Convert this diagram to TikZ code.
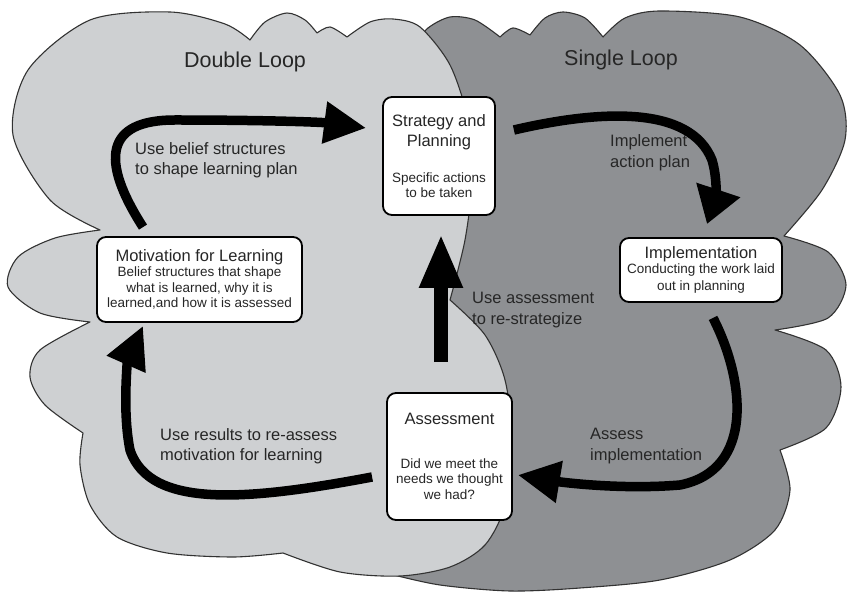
\documentclass[tikz,border=0pt]{standalone}
\usepackage{fontspec}
\setmainfont{Liberation Sans}
\usetikzlibrary{arrows.meta,calc}
\definecolor{lightcloud}{RGB}{206,208,210}
\definecolor{darkcloud}{RGB}{142,144,147}
\definecolor{cloudline}{RGB}{50,50,50}
\definecolor{txt}{RGB}{38,38,38}
\newcommand\stagetitle{\fontsize{16.5}{21}\selectfont}
\newcommand\stagesub{\fontsize{13.5}{15.5}\selectfont}
\begin{document}
\begin{tikzpicture}[x=1pt,y=-1pt,
  cloudshape/.style={draw=cloudline, line width=1.1pt, line join=round},
  stagebox/.style={draw=black, fill=white, rounded corners=9pt, line width=1.8pt, inner sep=0pt, align=center, text=txt, font=\stagesub},
  looplabel/.style={inner sep=0pt, align=left, text=txt, font=\fontsize{16.5}{20.5}\selectfont, anchor=west},
  looptitle/.style={inner sep=0pt, text=txt, font=\fontsize{21.5}{24}\selectfont, anchor=base},
  bigarrow/.style={line width=9.5pt, draw=black, -{Triangle[length=42pt,width=40pt]}},
  ]
\useasboundingbox (0,0) rectangle (847,593);
% dark cloud (single loop), behind
\path[cloudshape, fill=darkcloud]
  plot[smooth] coordinates {(415,45) (428,28) (450,17) (475,20) (500,37)}
  -- plot[smooth] coordinates {(500,37) (513,28) (530,35)}
  -- plot[smooth] coordinates {(530,35) (545,18) (563,12) (585,18) (603,37)}
  -- plot[smooth] coordinates {(603,37) (625,18) (660,11) (740,17) (800,45) (840,95) (845,140) (822,190) (784,236)}
  -- plot[smooth] coordinates {(784,236) (828,252) (846,285) (828,318) (775,330)}
  -- plot[smooth] coordinates {(775,330) (826,350) (841,387) (826,428) (780,450)}
  -- plot[smooth] coordinates {(780,450) (790,490) (775,530) (730,560) (660,580) (580,588) (510,591) (440,585) (390,574)}
  -- (300,300) -- cycle;
% light cloud (double loop), in front
\path[cloudshape, fill=lightcloud]
  plot[smooth] coordinates {(100,230) (50,200) (13,135) (28,70) (90,20) (170,12) (225,24) (250,40)}
  -- plot[smooth] coordinates {(250,40) (265,22) (287,13) (305,20) (317,33)}
  -- plot[smooth] coordinates {(317,33) (330,27) (347,37)}
  -- plot[smooth] coordinates {(347,37) (370,22) (393,19) (420,27) (450,65) (468,120) (472,180) (465,240) (450,300)}
  -- plot[smooth] coordinates {(450,300) (485,335) (505,380) (512,440) (505,505) (485,545) (450,567) (400,576) (340,572) (283,553)}
  -- plot[smooth] coordinates {(283,553) (233,557) (167,553) (117,537) (90,505) (80,465) (83,433)}
  -- plot[smooth] coordinates {(83,433) (45,405) (30,377) (40,350) (90,322)}
  -- plot[smooth] coordinates {(90,322) (40,313) (8,287) (18,257) (55,238) (100,230)}
  -- cycle;
% titles
\node[looptitle] (dbl) at (245,67.5) {Double Loop};
\node[looptitle] (sgl) at (621,66) {Single Loop};
% stage boxes
\node[stagebox, minimum width=112pt, minimum height=118pt] (strat) at (439,156)
  {\stagetitle Strategy and\\[5pt]\stagetitle Planning\\[20pt]Specific actions\\to be taken};
\node[stagebox, minimum width=205pt, minimum height=85pt] (mot) at (199.5,279.5)
  {\stagetitle Motivation for Learning\\Belief structures that shape\\what is learned, why it is\\learned,and how it is assessed};
\node[stagebox, minimum width=162pt, minimum height=64pt] (impl) at (701,270)
  {\stagetitle Implementation\\Conducting the work laid\\[1.5pt]out in planning};
\node[stagebox, minimum width=125pt, minimum height=127pt] (assess) at (449.5,456.5)
  {\stagetitle Assessment\\[28pt]Did we meet the\\needs we thought\\we had?};
% connector labels
\node[looplabel] (lb1) at (135,160) {Use belief structures\\to shape learning plan};
\node[looplabel] (lb2) at (610,152.5) {Implement\\action plan};
\node[looplabel] (lb3) at (472,310) {Use assessment\\to re-strategize};
\node[looplabel] (lb4) at (590,446) {Assess\\implementation};
\node[looplabel] (lb5) at (160,446) {Use results to re-assess\\motivation for learning};
% arrows
\draw[bigarrow] ($(mot.north)+(-56.5,-9)$) .. controls (100,160) and (105,120) .. (175,120)
  .. controls (260,120) and (320,122) .. ($(strat.west)+(-16,-28)$);
\draw[bigarrow, -{Triangle[length=36pt,width=44pt]}] ($(strat.east)+(18,-26)$) .. controls (600,110) and (690,105) .. (712,160)
  .. controls (718,180) and (715,200) .. ($(impl.north)+(6,-13)$);
\draw[bigarrow] ($(impl.south)+(12,15)$) .. controls (745,380) and (755,470) .. (680,485)
  .. controls (620,490) and (560,482) .. ($(assess.east)+(5,18.5)$);
\draw[bigarrow] ($(assess.west)+(-14,20.5)$) .. controls (250,500) and (150,510) .. (130,450)
  .. controls (122,410) and (128,360) .. ($(mot.south)+(-56.5,3)$);
\draw[bigarrow, line width=14pt, -{Triangle[length=54pt,width=40pt]}] ($(assess.north)+(-8.5,-30)$) -- ($(strat.south)+(2,18)$);
\end{tikzpicture}
\end{document}
